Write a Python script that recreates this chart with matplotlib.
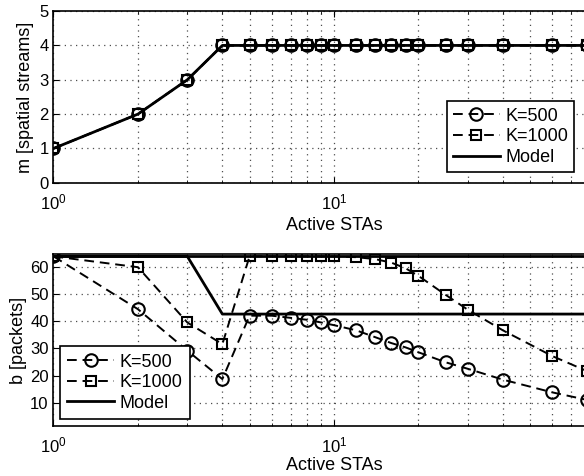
import matplotlib
matplotlib.use("Agg")
from matplotlib import pyplot as plt
from matplotlib.ticker import LogLocator, NullFormatter
import numpy as np

plt.rcParams['font.family'] = ['Liberation Sans', 'DejaVu Sans']
plt.rcParams['mathtext.fontset'] = 'custom'
plt.rcParams['mathtext.rm'] = 'Liberation Sans'

# Datos
# ========================================
sta = [1, 2, 3, 4, 5, 6, 7, 8, 9, 10, 12, 14, 16, 18, 20, 25, 30, 40, 60, 80]

m_k500 = [1, 2, 3, 4, 4, 4, 4, 4, 4, 4, 4, 4, 4, 4, 4, 4, 4, 4, 4, 4]
m_k1000 = [1, 2, 3, 4, 4, 4, 4, 4, 4, 4, 4, 4, 4, 4, 4, 4, 4, 4, 4, 4]
m_model = [1, 2, 3, 4, 4, 4, 4, 4, 4, 4, 4, 4, 4, 4, 4, 4, 4, 4, 4, 4]

b_k500 = [64, 44.5, 29.2, 18.7, 42.1, 42.1, 41.3, 40.6, 39.6, 38.6,
          36.7, 34.2, 32.0, 30.4, 28.6, 24.9, 22.5, 18.5, 13.8, 11.0]
b_k1000 = [64, 60, 39.6, 31.6, 64, 64, 64, 64, 64, 64,
           63.7, 63.0, 61.7, 59.6, 56.8, 49.8, 44.3, 36.7, 27.2, 21.6]
b_model500 = [64, 64, 64, 42.7, 42.7, 42.7, 42.7, 42.7, 42.7, 42.7,
              42.7, 42.7, 42.7, 42.7, 42.7, 42.7, 42.7, 42.7, 42.7, 42.7]
b_model1000 = [64] * len(sta)

x_ticks = [1, 10]

# Figura
# ========================================
fig = plt.figure(figsize=(5.84, 4.76), dpi=100)
ax1 = fig.add_axes([0.0916, 0.616, 0.9606, 0.3607])
ax2 = fig.add_axes([0.0916, 0.1057, 0.9606, 0.3597])

dash = (5, 3)
fs = 13
grid_style = dict(linestyle=(0, (1, 3.5)), color='0.3', linewidth=0.9)

def style_axis(ax, lpad):
    ax.set_xscale('log')
    ax.set_xlim(1, 100)
    ax.set_xticks(x_ticks)
    ax.xaxis.set_minor_locator(LogLocator(base=10, subs=np.arange(2, 10)))
    ax.xaxis.set_minor_formatter(NullFormatter())
    ax.grid(True, which='major', **grid_style)
    ax.grid(True, which='minor', axis='x', **grid_style)
    ax.tick_params(which='both', direction='in', top=True, right=True, labelsize=12)
    ax.tick_params(axis='x', which='major', pad=7)
    ax.tick_params(which='major', length=4)
    ax.tick_params(which='minor', length=2.5)
    for s in ax.spines.values():
        s.set_linewidth(1.2)
    ax.set_xlabel('Active STAs', fontsize=fs, labelpad=lpad)

# Primer subplot
ax1.plot(sta, m_k500, '--', dashes=dash, color='black', linewidth=1.4,
         marker='o', markersize=9, markerfacecolor='none', markeredgewidth=1.5, label='K=500')
ax1.plot(sta, m_k1000, '--', dashes=dash, color='black', linewidth=1.4,
         marker='s', markersize=7.5, markerfacecolor='none', markeredgewidth=1.5, label='K=1000')
ax1.plot(sta, m_model, '-', color='black', linewidth=2, label='Model')
style_axis(ax1, 3.5)
ax1.set_ylim(0, 5)
ax1.set_yticks([0, 1, 2, 3, 4, 5])
ax1.set_ylabel('m [spatial streams]', fontsize=fs, labelpad=4)
leg1 = ax1.legend(loc='lower right', bbox_to_anchor=(0.935, 0.04), fontsize=fs, handlelength=2.6,
                  fancybox=False, edgecolor='black', framealpha=1, borderpad=0.35,
                  labelspacing=0.2, handletextpad=0.3, borderaxespad=0.2)
leg1.get_frame().set_linewidth(1.2)

# Segundo subplot
ax2.plot(sta, b_k500, '--', dashes=dash, color='black', linewidth=1.4,
         marker='o', markersize=9, markerfacecolor='none', markeredgewidth=1.5, label='K=500')
ax2.plot(sta, b_k1000, '--', dashes=dash, color='black', linewidth=1.4,
         marker='s', markersize=7.5, markerfacecolor='none', markeredgewidth=1.5, label='K=1000')
ax2.plot(sta, b_model500, '-', color='black', linewidth=2, label='Model')
ax2.plot(sta, b_model1000, '-', color='black', linewidth=2)
style_axis(ax2, 1)
ax2.set_ylim(1.5, 64.7)
ax2.set_yticks([10, 20, 30, 40, 50, 60])
ax2.set_ylabel('b [packets]', fontsize=fs, labelpad=2)
leg2 = ax2.legend(loc='lower left', bbox_to_anchor=(0.0, 0.0), fontsize=fs, handlelength=2.6,
                  fancybox=False, edgecolor='black', framealpha=1, borderpad=0.4,
                  labelspacing=0.2, handletextpad=0.3, borderaxespad=0.37)
leg2.get_frame().set_linewidth(1.2)

fig.savefig('out.png', dpi=100)
